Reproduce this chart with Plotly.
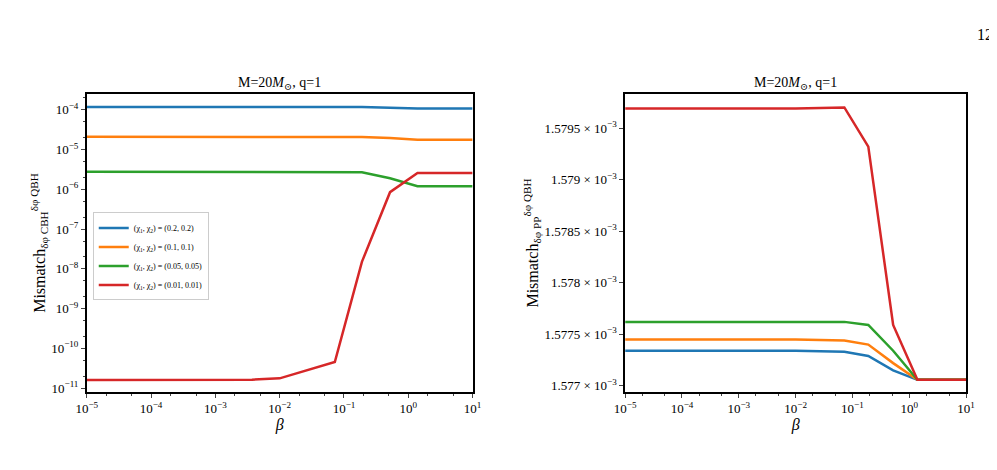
import plotly.graph_objects as go

beta = [1e-5, 1e-4, 1e-3, 3.7e-3, 1e-2, 0.072, 0.19, 0.52, 1.39, 10]
labels = ["(χ<sub>1</sub>, χ<sub>2</sub>) = (0.2, 0.2)",
          "(χ<sub>1</sub>, χ<sub>2</sub>) = (0.1, 0.1)",
          "(χ<sub>1</sub>, χ<sub>2</sub>) = (0.05, 0.05)",
          "(χ<sub>1</sub>, χ<sub>2</sub>) = (0.01, 0.01)"]
colors = ["#1f77b4", "#ff7f0e", "#2ca02c", "#d62728"]

# left: mismatch vs CBH
cbh_02 = [1.19e-4, 1.19e-4, 1.19e-4, 1.19e-4, 1.19e-4, 1.19e-4, 1.18e-4, 1.13e-4, 1.09e-4, 1.09e-4]
cbh_01 = [2.1e-5, 2.1e-5, 2.1e-5, 2.1e-5, 2.1e-5, 2.1e-5, 2.08e-5, 1.95e-5, 1.77e-5, 1.77e-5]
cbh_005 = [2.76e-6, 2.76e-6, 2.76e-6, 2.76e-6, 2.76e-6, 2.75e-6, 2.7e-6, 1.9e-6, 1.2e-6, 1.2e-6]
cbh_001 = [1.6e-11, 1.6e-11, 1.6e-11, 1.62e-11, 1.75e-11, 4.5e-11, 1.5e-8, 8.5e-7, 2.6e-6, 2.6e-6]

# right: mismatch vs PP (units of 1e-3)
pp_02 = [1.57734, 1.57734, 1.57734, 1.57734, 1.57734, 1.57733, 1.57729, 1.57715, 1.577058, 1.577058]
pp_01 = [1.57745, 1.57745, 1.57745, 1.57745, 1.57745, 1.57744, 1.57740, 1.57722, 1.577058, 1.577058]
pp_005 = [1.57762, 1.57762, 1.57762, 1.57762, 1.57762, 1.57762, 1.57759, 1.57734, 1.577058, 1.577058]
pp_001 = [1.57969, 1.57969, 1.57969, 1.57969, 1.57969, 1.57970, 1.57932, 1.57759, 1.577058, 1.577058]

x_ticks = [1e-5, 1e-4, 1e-3, 1e-2, 1e-1, 1, 10]
x_text = ["10<sup>−5</sup>", "10<sup>−4</sup>", "10<sup>−3</sup>", "10<sup>−2</sup>",
          "10<sup>−1</sup>", "10<sup>0</sup>", "10<sup>1</sup>"]
yl_ticks = [10.0 ** e for e in range(-11, -3)]
yl_text = ["10<sup>−%d</sup>" % -e for e in range(-11, -3)]
yr_ticks = [1.577, 1.5775, 1.578, 1.5785, 1.579, 1.5795]
yr_text = ["%g × 10<sup>−3</sup>" % v for v in yr_ticks]

fig = go.Figure()
for s, lab, c in zip([cbh_02, cbh_01, cbh_005, cbh_001], labels, colors):
    fig.add_trace(go.Scatter(x=beta, y=s, mode="lines", name=lab,
                             line=dict(color=c, width=2.5), xaxis="x", yaxis="y"))
for s, lab, c in zip([pp_02, pp_01, pp_005, pp_001], labels, colors):
    fig.add_trace(go.Scatter(x=beta, y=s, mode="lines", name=lab, showlegend=False,
                             line=dict(color=c, width=2.5), xaxis="x2", yaxis="y2"))

font = dict(family="Liberation Serif, DejaVu Serif, serif", size=13, color="black")
xcommon = dict(type="log", range=[-5, 1], tickvals=x_ticks, ticktext=x_text,
               ticks="outside", ticklen=4, showline=True, mirror=True, linecolor="black",
               linewidth=1.5, showgrid=False, zeroline=False, automargin=False,
               minor=dict(ticks="outside", ticklen=2, showgrid=False),
               title=dict(text="<i>β</i>", standoff=0))
fig.update_layout(
    width=997, height=470, margin=dict(l=0, r=0, t=0, b=0),
    paper_bgcolor="white", plot_bgcolor="white", font=font,
    xaxis=dict(domain=[0.079, 0.466], anchor="y", **xcommon),
    xaxis2=dict(domain=[0.619, 0.961], anchor="y2", **xcommon),
    yaxis=dict(domain=[0.183, 0.817], anchor="x", type="log", range=[-11.1, -3.6],
               tickvals=yl_ticks, ticktext=yl_text, ticks="outside", ticklen=4,
               minor=dict(ticks="outside", ticklen=2, showgrid=False),
               showline=True, mirror=True, linecolor="black", linewidth=1.5,
               showgrid=False, zeroline=False, automargin=False,
               title=dict(text="Mismatch<sub>δφ CBH</sub><sup>δφ QBH</sup>", standoff=2)),
    yaxis2=dict(domain=[0.183, 0.817], anchor="x2", range=[1.57694, 1.57983],
                tickvals=yr_ticks, ticktext=yr_text, ticks="outside", ticklen=4,
                showline=True, mirror=True, linecolor="black", linewidth=1.5,
                showgrid=False, zeroline=False, automargin=False,
                title=dict(text="Mismatch<sub>δφ PP</sub><sup>δφ QBH</sup>", standoff=2)),
    legend=dict(x=0.085, y=0.565, xanchor="left", yanchor="top", bgcolor="white",
                bordercolor="#cccccc", borderwidth=1, font=dict(size=8),
                tracegroupgap=0, itemwidth=30),
    annotations=[
        dict(text="M=20<i>M</i><sub>⊙</sub>, q=1", x=0.2725, y=0.818, xref="paper", yref="paper",
             xanchor="center", yanchor="bottom", showarrow=False, font=dict(size=14)),
        dict(text="M=20<i>M</i><sub>⊙</sub>, q=1", x=0.79, y=0.818, xref="paper", yref="paper",
             xanchor="center", yanchor="bottom", showarrow=False, font=dict(size=14)),
        dict(text="12", x=0.99, y=0.965, xref="paper", yref="paper", xanchor="right",
             yanchor="top", showarrow=False, font=dict(size=16)),
    ],
)

fig.write_html("out.html")
